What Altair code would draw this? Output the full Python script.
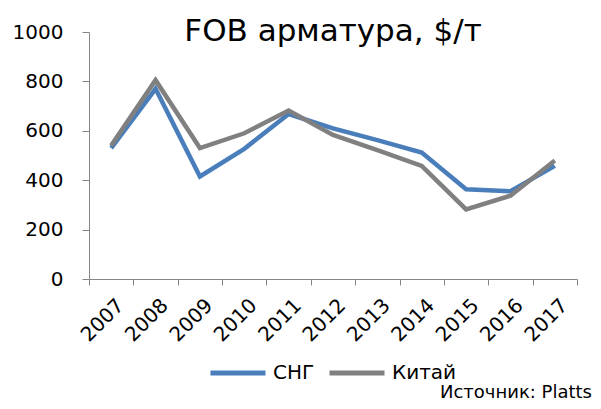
import altair as alt
import pandas as pd

years = ["2007", "2008", "2009", "2010", "2011", "2012", "2013", "2014", "2015", "2016", "2017"]
cis = [530, 770, 415, 527, 668, 610, 562, 512, 363, 355, 458]
china = [540, 805, 530, 590, 682, 583, 522, 458, 282, 337, 480]
series_names = ["СНГ", "Китай"]
series_colors = ["#4A7EBB", "#808080"]
y_ticks = [0, 200, 400, 600, 800, 1000]
title_text = "FOB арматура, $/т"
source_text = "Источник: Platts"

rows = []
for name, vals in zip(series_names, [cis, china]):
    for yr, v in zip(years, vals):
        rows.append({"year": yr, "price": v, "series": name})
df = pd.DataFrame(rows)

FONT = "DejaVu Sans"
AXIS_COLOR = "#868686"
W, H = 488, 247

lines = alt.Chart(df).mark_line(strokeWidth=4.5).encode(
    x=alt.X(
        "year:O",
        bandPosition=0.5,
        sort=years,
        scale=alt.Scale(type="band", paddingInner=0, paddingOuter=0),
        axis=alt.Axis(
            title=None, tickBand="extent", labelAngle=-45, labelAlign="right",
            labelBaseline="top", labelPadding=10, labelOffset=2, tickSize=6,
            domainColor=AXIS_COLOR, tickColor=AXIS_COLOR, labelFontSize=20,
            labelFont=FONT, labelColor="#000000", grid=False,
        ),
    ),
    y=alt.Y(
        "price:Q",
        scale=alt.Scale(domain=[0, 1000], nice=False),
        axis=alt.Axis(
            title=None, values=y_ticks, format="d", grid=False, tickSize=7,
            labelPadding=19, domainColor=AXIS_COLOR, tickColor=AXIS_COLOR,
            labelFontSize=20, labelFont=FONT, labelColor="#000000",
        ),
    ),
    color=alt.Color(
        "series:N",
        sort=series_names,
        scale=alt.Scale(domain=series_names, range=series_colors),
        legend=alt.Legend(
            title=None, orient="none", legendX=119, legendY=311,
            direction="horizontal", symbolType="stroke", symbolSize=3025,
            symbolStrokeWidth=5, labelFontSize=20, labelFont=FONT,
            labelOffset=5, columnPadding=4, gridAlign="none", padding=0,
            labelColor="#000000",
        ),
    ),
)

title_layer = alt.Chart(pd.DataFrame({"label": [title_text]})).mark_text(
    font=FONT, fontSize=31, align="center", baseline="alphabetic", color="#000000"
).encode(x=alt.value(W / 2), y=alt.value(9), text="label:N")

source_layer = alt.Chart(pd.DataFrame({"label": [source_text]})).mark_text(
    font=FONT, fontSize=18, align="right", baseline="alphabetic", color="#000000"
).encode(x=alt.value(503), y=alt.value(366), text="label:N")

chart = alt.layer(lines, title_layer, source_layer).properties(
    width=W,
    height=H,
    autosize=alt.AutoSizeParams(type="none"),
    padding={"left": 81, "top": 24, "right": 16, "bottom": 122},
).configure_view(stroke="transparent")

chart.save("out.html", embed_options={"renderer": "svg", "actions": False})
